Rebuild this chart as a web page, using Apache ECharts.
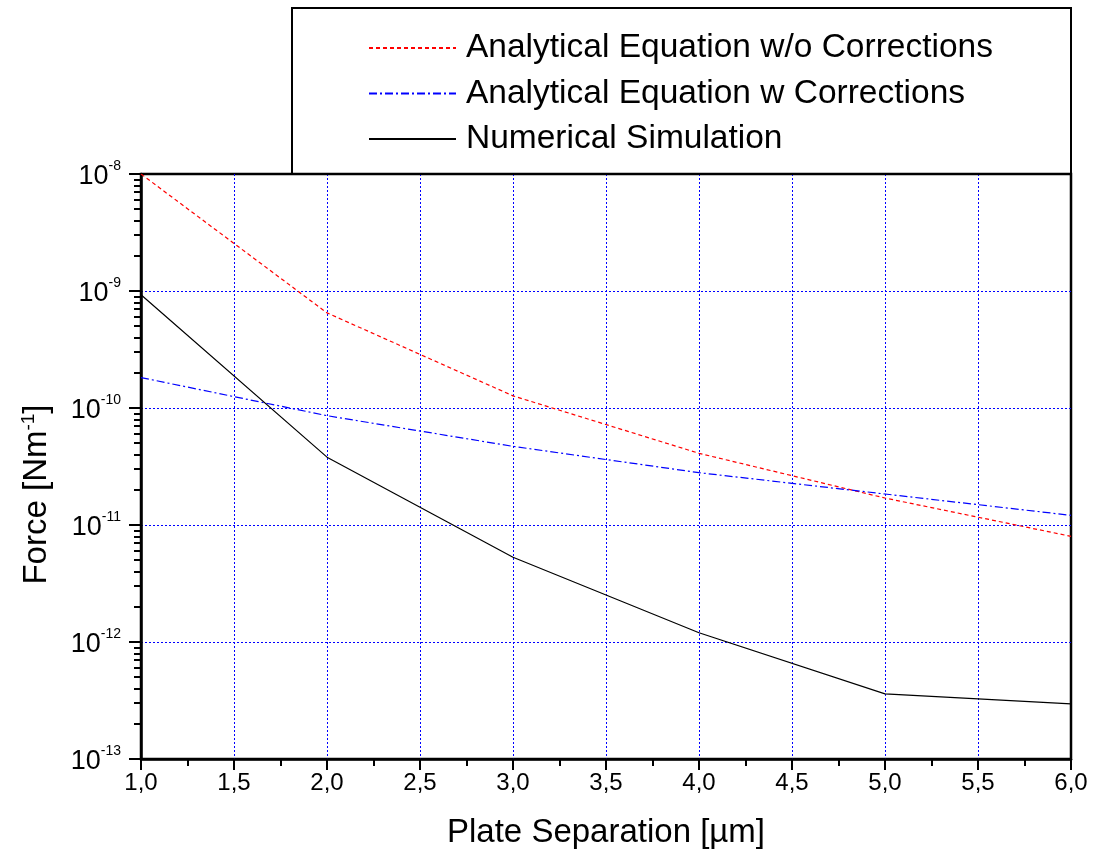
<!DOCTYPE html>
<html><head><meta charset="utf-8">
<script src="https://cdn.jsdelivr.net/npm/echarts@6/dist/echarts.min.js"></script>
<style>html,body{margin:0;padding:0;background:#fff}#c{width:1096px;height:864px}</style>
</head><body><div id="c"></div>
<script>
const xValues = [1, 2, 3, 4, 5, 6];
const noCorrections = [1.0e-8, 6.5e-10, 1.27e-10, 4.1e-11, 1.7e-11, 8.0e-12];
const withCorrections = [1.82e-10, 8.6e-11, 4.7e-11, 2.8e-11, 1.84e-11, 1.21e-11];
const numerical = [9.3e-10, 3.8e-11, 5.3e-12, 1.2e-12, 3.6e-13, 2.96e-13];
const seriesNames = ['Analytical Equation w/o Corrections', 'Analytical Equation w Corrections', 'Numerical Simulation'];
const yDecades = [-13, -12, -11, -10, -9];
const yMinorMultipliers = [2, 3, 4, 5, 6, 7, 8, 9];

const FONT = 'Liberation Sans, Arial, sans-serif';
const yMinorTicks = [];
yDecades.forEach(d => yMinorMultipliers.forEach(k => yMinorTicks.push(d + Math.log10(k))));

const pairs = arr => xValues.map((x, i) => [x, arr[i]]);

const chart = echarts.init(document.getElementById('c'), null, {renderer: 'canvas'});
chart.setOption({
  backgroundColor: '#fff',
  animation: false,
  grid: {left: 141, right: 25, top: 174, bottom: 105, show: true, borderColor: '#000', borderWidth: 2.5, backgroundColor: 'transparent'},
  graphic: [{
    type: 'rect', z: 100,
    shape: {x: 292, y: 8, width: 779, height: 166},
    style: {fill: 'none', stroke: '#000', lineWidth: 2}
  }],
  legend: {
    orient: 'vertical', left: 368, top: 30, padding: 0,
    itemWidth: 87, itemHeight: 14, itemGap: 9.5,
    itemStyle: {opacity: 0},
    textStyle: {fontFamily: FONT, fontSize: 33.5, color: '#000', lineHeight: 36, padding: [0, 0, 0, 5]},
    data: seriesNames
  },
  xAxis: {
    type: 'value', min: 1, max: 6, interval: 0.5,
    axisLine: {show: true, onZero: false, lineStyle: {color: '#000', width: 2.5}},
    axisTick: {show: true, inside: false, length: 11, lineStyle: {color: '#000', width: 2}},
    minorTick: {show: true, splitNumber: 2, length: 7, lineStyle: {color: '#000', width: 2}},
    axisLabel: {margin: 12, fontFamily: FONT, fontSize: 24, color: '#000',
      formatter: v => v.toFixed(1).replace('.', ',')},
    splitLine: {show: true, showMinLine: false, showMaxLine: false, lineStyle: {color: '#0000ff', width: 1, type: [2, 2]}},
    name: 'Plate Separation [µm]', nameLocation: 'middle', nameGap: 57,
    nameTextStyle: {fontFamily: FONT, fontSize: 33, color: '#000'}
  },
  yAxis: [{
    type: 'log', logBase: 10, min: 1e-13, max: 1e-8,
    axisLine: {show: true, onZero: false, lineStyle: {color: '#000', width: 2.5}},
    axisTick: {show: true, inside: false, length: 12, lineStyle: {color: '#000', width: 2}},
    axisLabel: {margin: 20, color: '#000',
      formatter: v => '{b|10}{s|' + Math.round(Math.log10(v)) + '}',
      rich: {
        b: {fontFamily: FONT, fontSize: 27, lineHeight: 30, color: '#000', padding: [6, 0, 0, 0]},
        s: {fontFamily: FONT, fontSize: 14, lineHeight: 14, verticalAlign: 'top', color: '#000'}
      }},
    splitLine: {show: true, showMinLine: false, showMaxLine: false, lineStyle: {color: '#0000ff', width: 1, type: [2, 2]}},
    name: '{t|Force [Nm}{s|-1}{t|]}', nameLocation: 'middle', nameGap: 86, nameRotate: 90,
    nameTextStyle: {padding: [0, 56, 0, 0],
      rich: {
        t: {fontFamily: FONT, fontSize: 33, lineHeight: 36, color: '#000'},
        s: {fontFamily: FONT, fontSize: 19, lineHeight: 19, verticalAlign: 'top', color: '#000'}
      }}
  }, {
    type: 'value', min: -13, max: -8, position: 'left', offset: 0,
    axisLine: {show: false},
    axisLabel: {show: false},
    splitLine: {show: false},
    axisTick: {show: true, inside: false, length: 7, customValues: yMinorTicks, lineStyle: {color: '#000', width: 2}}
  }],
  series: [{
    name: seriesNames[0], type: 'line', data: pairs(noCorrections), symbol: 'none',
    lineStyle: {color: '#ff0000', width: 1.2, type: [4, 3]}, itemStyle: {color: '#ff0000'}, z: 3
  }, {
    name: seriesNames[1], type: 'line', data: pairs(withCorrections), symbol: 'none',
    lineStyle: {color: '#0000ff', width: 1.2, type: [8, 3, 2, 3]}, itemStyle: {color: '#0000ff'}, z: 3
  }, {
    name: seriesNames[2], type: 'line', data: pairs(numerical), symbol: 'none',
    lineStyle: {color: '#000', width: 1.2, type: 'solid'}, itemStyle: {color: '#000'}, z: 3
  }]
});
</script></body></html>
